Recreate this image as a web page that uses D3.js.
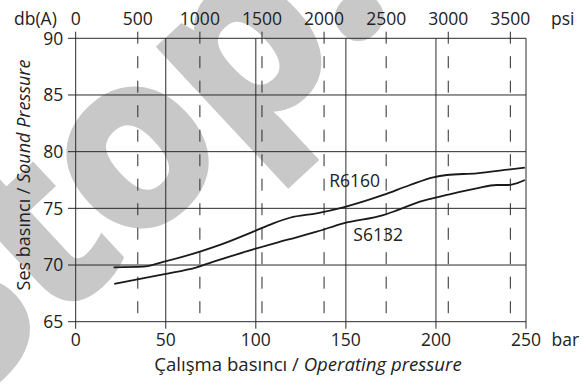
<!DOCTYPE html>
<html><head><meta charset="utf-8">
<script src="https://cdn.jsdelivr.net/npm/d3@7"></script>
<style>
html,body{margin:0;padding:0;background:#fff;}
svg{display:block;}
text{font-family:"Open Sans",sans-serif;fill:#222;}
</style></head>
<body>
<script>
// ---- data ----
const barTicks = [0, 50, 100, 150, 200, 250];
const psiTicks = [0, 500, 1000, 1500, 2000, 2500, 3000, 3500];
const dbTicks = [65, 70, 75, 80, 85, 90];
const r6160Bar = [21, 37.5, 48.6, 69, 80.1, 98.6, 109.7, 119, 133.8, 148.6, 170.8, 185.6, 198.5, 206, 222.6, 241.1, 249.4];
const r6160Db  = [69.80, 69.85, 70.27, 71.18, 71.77, 72.94, 73.68, 74.17, 74.56, 75.09, 76.18, 77.06, 77.74, 77.94, 78.09, 78.44, 78.59];
const s6132Bar = [21.4, 48.6, 67.2, 78.3, 98.6, 117.1, 133.8, 148.6, 170.8, 176.3, 191.1, 206, 222.6, 233.7, 240.2, 244.8, 249.4];
const s6132Db  = [68.33, 69.18, 69.80, 70.38, 71.39, 72.21, 72.94, 73.68, 74.41, 74.70, 75.59, 76.18, 76.77, 77.06, 77.06, 77.21, 77.50];
const seriesNames = ["R6160", "S6132"];
const PSI_PER_BAR = 14.5038;

const W = 586, H = 385;
const svg = d3.select("body").append("svg").attr("width", W).attr("height", H);

const x = d3.scaleLinear().domain([0, 250]).range([75.7, 526]);
const xPsi = d3.scaleLinear().domain([0, 250 * PSI_PER_BAR]).range([75.7, 526]);
const y = d3.scaleLinear().domain([65, 90]).range([321.7, 38.3]);

// ---- watermark (positioned so the "o" is centred where the reference shows it) ----
const wmSize = 238;
const wm = svg.append("text")
  .style("font-family", "'Open Sans',sans-serif")
  .style("font-weight", "bold")
  .style("font-size", wmSize + "px")
  .style("fill", "#c8c8c8")
  .style("stroke", "#c8c8c8")
  .style("stroke-width", 7)
  .text("Stop.");
let ocx = 1.25 * wmSize;
try {
  const ext = wm.node().getExtentOfChar(2);
  ocx = ext.x + ext.width / 2;
} catch (e) {}
const ocy = -0.27 * wmSize;
wm.attr("transform", `translate(138,158) rotate(-43) translate(${-ocx},${-ocy})`);

const lineCol = "#2a2a2a";

// horizontal grid
svg.append("g").selectAll("line").data(dbTicks).join("line")
  .attr("x1", x(0) - 7.7).attr("x2", x(250))
  .attr("y1", d => y(d)).attr("y2", d => y(d))
  .attr("stroke", lineCol).attr("stroke-width", 1);

// solid vertical grid (bar)
svg.append("g").selectAll("line").data(barTicks).join("line")
  .attr("x1", d => x(d)).attr("x2", d => x(d))
  .attr("y1", d => (d === 0 ? 31.7 : y(90))).attr("y2", y(65) + 7)
  .attr("stroke", lineCol).attr("stroke-width", 1);

// dashed psi lines
svg.append("g").selectAll("line").data(psiTicks.filter(d => d > 0)).join("line")
  .attr("x1", d => xPsi(d)).attr("x2", d => xPsi(d))
  .attr("y1", 31.7).attr("y2", 318)
  .attr("stroke", lineCol).attr("stroke-width", 1)
  .attr("stroke-dasharray", "12,12.5");

const tickFont = "17.5px";

// y tick labels
svg.append("g").selectAll("text").data(dbTicks).join("text")
  .attr("x", 63.3).attr("y", d => y(d)).attr("dy", "0.36em")
  .attr("text-anchor", "end").style("font-size", tickFont)
  .text(d => d);

// bottom tick labels
svg.append("g").selectAll("text").data(barTicks).join("text")
  .attr("x", d => x(d)).attr("y", 346)
  .attr("text-anchor", "middle").style("font-size", tickFont)
  .text(d => d);

// top tick labels
svg.append("g").selectAll("text").data(psiTicks).join("text")
  .attr("x", d => xPsi(d)).attr("y", 25)
  .attr("text-anchor", "middle").style("font-size", tickFont)
  .text(d => d);

// units
svg.append("text").attr("x", 14).attr("y", 24.5).style("font-size", tickFont).text("db(A)");
svg.append("text").attr("x", 551).attr("y", 25).style("font-size", tickFont).text("psi");
svg.append("text").attr("x", 551.5).attr("y", 346).style("font-size", tickFont).text("bar");

// axis titles
const xt = svg.append("text").attr("x", 308).attr("y", 371)
  .attr("text-anchor", "middle").style("font-size", "18.6px");
xt.append("tspan").text("Çalışma basıncı / ");
xt.append("tspan").style("font-style", "italic").text("Operating pressure");

const yt = svg.append("text").attr("transform", "translate(30,175) rotate(-90)")
  .attr("text-anchor", "middle").style("font-size", "18px");
yt.append("tspan").text("Ses basıncı / ");
yt.append("tspan").style("font-style", "italic").text("Sound Pressure");

// curves
const line = d3.line().x(d => x(d[0])).y(d => y(d[1])).curve(d3.curveMonotoneX);
const series = [
  d3.zip(r6160Bar, r6160Db),
  d3.zip(s6132Bar, s6132Db)
];
svg.append("g").selectAll("path").data(series).join("path")
  .attr("d", line).attr("fill", "none")
  .attr("stroke", "#1a1a1a").attr("stroke-width", 1.8);

// series labels
svg.append("text").attr("x", 329.3).attr("y", 186.7).style("font-size", tickFont).text(seriesNames[0]);
svg.append("text").attr("x", 353.3).attr("y", 240.7).style("font-size", tickFont).text(seriesNames[1]);
</script>
</body></html>
